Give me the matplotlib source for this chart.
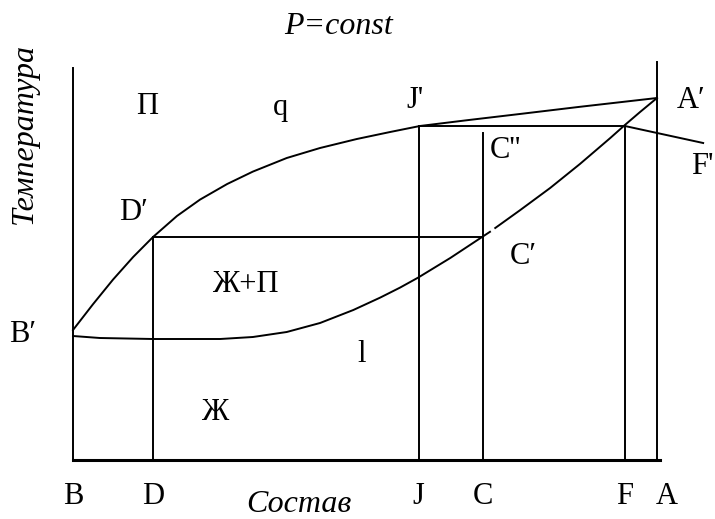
import matplotlib.pyplot as plt
import numpy as np

plt.rcParams['font.family'] = ['Liberation Serif', 'DejaVu Serif']

# composition (0 = B, 1 = A) and temperature (arbitrary units)
comp_marks = ["B", "D", "J", "C", "F", "A"]
comp_values = [0.0, 0.137, 0.592, 0.702, 0.945, 1.0]

# vapour curve (upper) B' -> D' -> J' -> A'
vap_x = [0.0, 0.034, 0.0685, 0.103, 0.137, 0.178, 0.2175, 0.264, 0.308, 0.366,
         0.423, 0.486, 0.543, 0.594, 0.675, 0.765, 0.868, 1.0]
vap_t = [32.5, 38.9, 45.1, 50.75, 55.75, 61.0, 65.1, 69.0, 72.1, 75.5,
         78.0, 80.25, 82.0, 83.5, 84.95, 86.5, 88.3, 90.5]

# liquid curve (lower), drawn with a small break just above C'
liq_x1 = [0.0, 0.046, 0.137, 0.252, 0.308, 0.366, 0.423, 0.480, 0.526, 0.560,
          0.591, 0.646, 0.702, 0.714]
liq_t1 = [31.0, 30.5, 30.25, 30.25, 30.75, 32.0, 34.25, 37.5, 40.6, 43.1,
          45.6, 50.5, 55.9, 57.05]
liq_x2 = [0.723, 0.765, 0.817, 0.868, 0.920, 0.945, 0.971, 1.0]
liq_t2 = [58.0, 62.4, 68.0, 74.0, 80.5, 83.75, 87.0, 90.5]

# tie lines: D'-C' and J'-F'
tie1_t = 55.75
tie2_t = 83.5
c2_top = 81.75  # C''

fig = plt.figure(figsize=(7.15, 5.19), dpi=100)
ax = fig.add_axes([0, 0, 1, 1])
ax.set_xlim(-0.125, 1.0993)
ax.set_ylim(-14.75, 115)
ax.axis("off")

lw = 1.4
# frame
ax.plot([0, 0], [0, 98], color="black", lw=lw)
ax.plot([1, 1], [0, 99.5], color="black", lw=lw)
ax.plot([0, 1.005], [0, 0], color="black", lw=2.2)

# curves
ax.plot(vap_x, vap_t, color="black", lw=lw)
ax.plot(liq_x1, liq_t1, color="black", lw=lw)
ax.plot(liq_x2, liq_t2, color="black", lw=lw)

# verticals
d, j, c, f = comp_values[1], comp_values[2], comp_values[3], comp_values[4]
ax.plot([d, d], [0, tie1_t], color="black", lw=lw)
ax.plot([j, j], [0, tie2_t], color="black", lw=lw)
ax.plot([c, c], [0, c2_top], color="black", lw=lw)
ax.plot([f, f], [0, tie2_t], color="black", lw=lw)

# tie lines
ax.plot([d, c], [tie1_t, tie1_t], color="black", lw=lw)
ax.plot([j, f], [tie2_t, tie2_t], color="black", lw=lw)
# pointer to F'
ax.plot([f, 1.079], [tie2_t, 79.25], color="black", lw=lw)

fs = 22
fs_it = 23
for name, x in zip(comp_marks, comp_values):
    xx = x
    if name == "A":
        xx = 1.017
    ax.text(xx, -9, name, ha="center", va="center", fontsize=fs)

ax.text(0.454, 108.5, "P=const", ha="center", va="center", fontsize=fs_it, style="italic")
ax.text(0.387, -11.25, "Состав", ha="center", va="center", fontsize=fs_it, style="italic")
ax.text(-0.084, 81.5, "Температура", ha="center", va="center", fontsize=fs_it,
        style="italic", rotation=90)

labels = [("П", 0.127, 88.25), ("q", 0.356, 88.25), ("J'", 0.585, 90.0), ("A′", 1.058, 89.75),
          ("C''", 0.740, 77.25), ("F'", 1.077, 73.5), ("D′", 0.103, 62.0), ("C′", 0.771, 51.0),
          ("Ж+П", 0.295, 43.75), ("B′", -0.086, 31.5), ("l", 0.495, 26.5), ("Ж", 0.243, 11.75)]
for txt, x, t in labels:
    ax.text(x, t, txt, ha="center", va="center", fontsize=fs)

plt.savefig("out.png")
